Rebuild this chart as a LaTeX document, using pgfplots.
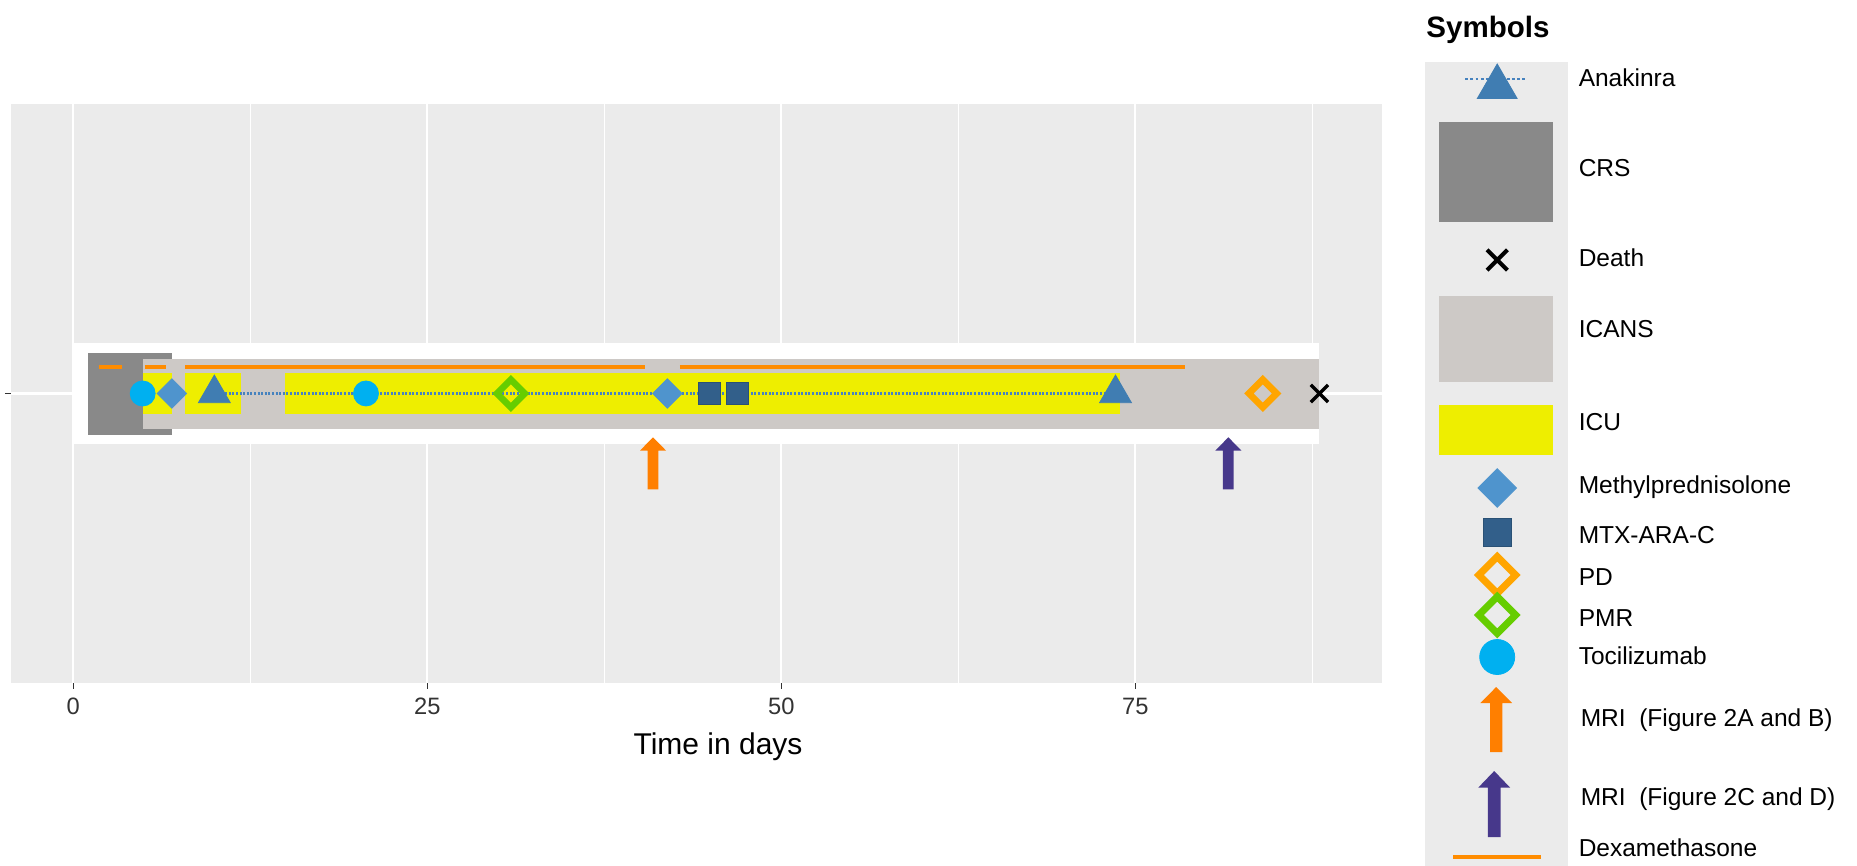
\documentclass[border=0pt]{standalone}
\usepackage{fontspec}
\setmainfont{Liberation Sans}
\usepackage{pgfplots}
\pgfplotsset{compat=1.18}
\definecolor{panelbg}{RGB}{235,235,235}
\definecolor{crs}{RGB}{137,137,137}
\definecolor{icans}{RGB}{205,201,198}
\definecolor{icu}{RGB}{238,238,0}
\definecolor{dex}{RGB}{255,140,0}
\definecolor{anak}{RGB}{70,130,190}
\definecolor{anaktri}{RGB}{64,125,178}
\definecolor{mp}{RGB}{79,148,205}
\definecolor{mtx}{RGB}{50,95,138}
\definecolor{toci}{RGB}{0,176,240}
\definecolor{pmr}{RGB}{102,205,0}
\definecolor{pd}{RGB}{255,165,0}
\definecolor{mriA}{RGB}{255,127,0}
\definecolor{mriC}{RGB}{71,56,139}
\definecolor{tickcol}{RGB}{51,51,51}
\begin{document}
\begin{tikzpicture}
\path[use as bounding box] (0pt,0pt) rectangle (928.5pt,433pt);
% ---------------- main panel ----------------
\begin{axis}[
  at={(5.5pt,91.5pt)}, anchor=south west,
  scale only axis, width=685.35pt, height=289.5pt,
  xmin=-4.4, xmax=92.4, ymin=-289.5, ymax=289.5,
  axis background/.style={fill=panelbg},
  axis line style={draw=none},
  xtick={0,25,50,75}, minor xtick={12.5,37.5,62.5,87.5},
  ytick={0}, yticklabels={},
  xtick pos=bottom, ytick pos=left,
  tick align=outside,
  major tick length=3pt, minor tick length=0pt,
  tick style={draw=tickcol, line width=0.8pt},
  grid=both,
  major grid style={white, line width=1.1pt},
  minor grid style={white, line width=0.55pt},
  xticklabel style={font=\fontsize{11.85}{12}\selectfont, text=tickcol, yshift=-1pt},
  /pgf/number format/assume math mode=true,
  clip=false,
]
% white timeline band
\addplot[draw=none, fill=white] coordinates {(0,-51) (88,-51) (88,50.5) (0,50.5)} --cycle;
% CRS
\addplot[draw=none, fill=crs] coordinates {(1.06,-41.5) (6.96,-41.5) (6.96,40.2) (1.06,40.2)} --cycle;
% ICANS
\addplot[draw=none, fill=icans] coordinates {(4.91,-35.5) (88,-35.5) (88,34.2) (4.91,34.2)} --cycle;
% ICU
\addplot[draw=none, fill=icu] coordinates {(4.91,-20.8) (6.99,-20.8) (6.99,20.2) (4.91,20.2)} --cycle;
\addplot[draw=none, fill=icu] coordinates {(7.91,-20.8) (11.86,-20.8) (11.86,20.2) (7.91,20.2)} --cycle;
\addplot[draw=none, fill=icu] coordinates {(14.93,-20.8) (73.94,-20.8) (73.94,20.2) (14.93,20.2)} --cycle;
% Dexamethasone
\addplot[dex, line width=2.15pt] coordinates {(1.84,26.8) (3.43,26.8)};
\addplot[dex, line width=2.15pt] coordinates {(5.06,26.8) (6.57,26.8)};
\addplot[dex, line width=2.15pt] coordinates {(7.91,26.8) (40.4,26.8)};
\addplot[dex, line width=2.15pt] coordinates {(42.83,26.8) (78.5,26.8)};
% Anakinra course
\addplot[anak, line width=1.3pt, dash pattern=on 1pt off 0.8pt] coordinates {(9.96,0.2) (73.6,0.2)};
% Tocilizumab
\addplot[only marks, color=toci, mark=*, mark size=6.25pt, mark options={fill=toci, draw=toci}] coordinates {(4.9,0) (20.67,0)};
% Methylprednisolone
\addplot[only marks, color=mp, mark=square*, mark size=5.2pt, mark options={rotate=45, fill=mp, draw=mp}] coordinates {(6.96,0) (41.95,0)};
% Anakinra
\addplot[only marks, color=anaktri, mark=triangle*, mark size=9.2pt, mark options={fill=anaktri, draw=anaktri}] coordinates {(9.96,0) (73.6,0)};
% MTX-ARA-C
\addplot[only marks, color=mtx, mark=square*, mark size=5.5pt, mark options={fill=mtx, draw=mtx!85!black, line width=0.4pt}] coordinates {(44.9,0) (46.9,0)};
% PMR
\addplot[only marks, color=pmr, mark=square, mark size=4.9pt, mark options={rotate=45, draw=pmr, line width=3.3pt}] coordinates {(30.9,0)};
% PD
\addplot[only marks, color=pd, mark=square, mark size=4.9pt, mark options={rotate=45, draw=pd, line width=3.3pt}] coordinates {(84,0)};
% Death
\addplot[only marks, color=black, mark=x, mark size=6.1pt, mark options={draw=black, line width=1.7pt}] coordinates {(88,0)};
% MRI arrows
\addplot[draw=none, fill=mriA] coordinates {(40.56,-95.8) (41.32,-95.8) (41.32,-57.1) (41.86,-57.1) (40.94,-43.8) (40.02,-57.1) (40.56,-57.1)} --cycle;
\addplot[draw=none, fill=mriC] coordinates {(81.19,-95.8) (81.95,-95.8) (81.95,-57.1) (82.49,-57.1) (81.57,-43.8) (80.65,-57.1) (81.19,-57.1)} --cycle;
\end{axis}
\node[anchor=base, inner sep=0pt, font=\fontsize{15}{18}\selectfont] at (359pt,55.5pt) {Time in days};
% ---------------- legend ----------------
\begin{axis}[
  at={(700pt,0pt)}, anchor=south west,
  scale only axis, width=228.5pt, height=433pt,
  xmin=1400, xmax=1857, ymin=0, ymax=866, y dir=reverse,
  hide axis, clip=false,
]
\addplot[draw=none, fill=panelbg] coordinates {(1425,62) (1568,62) (1568,866) (1425,866)} --cycle;
% Anakinra key
\addplot[anak, line width=1.1pt, dash pattern=on 1.4pt off 1.2pt] coordinates {(1465,79) (1527,79)};
\addplot[only marks, color=anaktri, mark=triangle*, mark size=11.5pt, mark options={fill=anaktri, draw=anaktri}] coordinates {(1497,87)};
% CRS key
\addplot[draw=none, fill=crs] coordinates {(1439,122) (1553,122) (1553,222) (1439,222)} --cycle;
% Death key
\addplot[only marks, color=black, mark=x, mark size=7.2pt, mark options={draw=black, line width=2pt}] coordinates {(1497,260)};
% ICANS key
\addplot[draw=none, fill=icans] coordinates {(1439,296) (1553,296) (1553,382) (1439,382)} --cycle;
% ICU key
\addplot[draw=none, fill=icu] coordinates {(1439,405) (1553,405) (1553,455) (1439,455)} --cycle;
% Methylprednisolone key
\addplot[only marks, color=mp, mark=square*, mark size=6.8pt, mark options={rotate=45, fill=mp, draw=mp}] coordinates {(1497,488)};
% MTX key
\addplot[only marks, color=mtx, mark=square*, mark size=7pt, mark options={fill=mtx, draw=mtx!85!black, line width=0.4pt}] coordinates {(1497,532)};
% PD key
\addplot[only marks, color=pd, mark=square, mark size=6.5pt, mark options={rotate=45, draw=pd, line width=3.5pt}] coordinates {(1497,575)};
% PMR key
\addplot[only marks, color=pmr, mark=square, mark size=6.5pt, mark options={rotate=45, draw=pmr, line width=3.5pt}] coordinates {(1497,615)};
% Tocilizumab key
\addplot[only marks, color=toci, mark=*, mark size=8.75pt, mark options={fill=toci, draw=toci}] coordinates {(1497,657)};
% MRI keys
\addplot[draw=none, fill=mriA] coordinates {(1489.8,752) (1502.2,752) (1502.2,703) (1511.8,703) (1496,687) (1480.2,703) (1489.8,703)} --cycle;
\addplot[draw=none, fill=mriC] coordinates {(1487.7,837) (1500.3,837) (1500.3,787.5) (1509.8,787.5) (1494,771) (1478.2,787.5) (1487.7,787.5)} --cycle;
% Dexamethasone key
\addplot[dex, line width=2pt] coordinates {(1453,857) (1541,857)};
% labels
\node[anchor=base west, inner sep=0pt, font=\bfseries\fontsize{14.75}{16}\selectfont] at (axis cs:1426,37.3) {Symbols};
\begin{scope}[every node/.style={anchor=base west, inner sep=0pt, font=\fontsize{12.25}{14}\selectfont}]
\node at (axis cs:1578,86.8) {Anakinra};
\node at (axis cs:1578,176.8) {CRS};
\node at (axis cs:1578,266.8) {Death};
\node at (axis cs:1578,337.8) {ICANS};
\node at (axis cs:1578,430.8) {ICU};
\node at (axis cs:1578,493.8) {Methylprednisolone};
\node at (axis cs:1578,543.8) {MTX-ARA-C};
\node at (axis cs:1578,585.8) {PD};
\node at (axis cs:1578,626.8) {PMR};
\node at (axis cs:1578,664.8) {Tocilizumab};
\node at (axis cs:1580,726.8) {MRI\ \ (Figure 2A and B)};
\node at (axis cs:1580,805.8) {MRI\ \ (Figure 2C and D)};
\node at (axis cs:1578,856.8) {Dexamethasone};
\end{scope}
\end{axis}
\end{tikzpicture}
\end{document}
